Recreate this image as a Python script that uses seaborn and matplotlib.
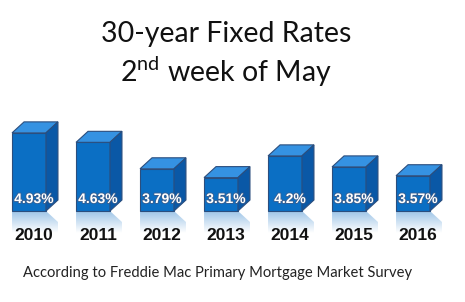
import numpy as np
import pandas as pd
import matplotlib
matplotlib.use("Agg")
import matplotlib.pyplot as plt
import matplotlib.patheffects as pe
from matplotlib.patches import Polygon
import seaborn as sns

years = ["2010", "2011", "2012", "2013", "2014", "2015", "2016"]
rates = [4.93, 4.63, 3.79, 3.51, 4.2, 3.85, 3.57]
rate_labels = ["4.93%", "4.63%", "3.79%", "3.51%", "4.2%", "3.85%", "3.57%"]
title_line1 = "30-year Fixed Rates"
title_line2 = r"2$^{\mathrm{nd}}$ week of May"
footer = "According to Freddie Mac Primary Mortgage Market Survey"

sns.set_theme(style="white")
plt.rcParams["font.family"] = ["Lato", "DejaVu Sans"]
plt.rcParams["mathtext.fontset"] = "custom"
plt.rcParams["mathtext.rm"] = "Lato"

BASE = 2.45          # visual baseline of the truncated value axis
FRONT = "#0b6fc4"
TOP = "#3592e2"
SIDE = "#0a58a6"
EDGE = "#2b4e7e"

df = pd.DataFrame({"year": years, "rate": rates})

fig = plt.figure(figsize=(4.65, 3.02), dpi=100)
ax = fig.add_axes([0, 0, 1, 1])
sns.barplot(data=df, x="year", y="rate", color=FRONT, width=0.53,
            saturation=1, ax=ax, edgecolor=EDGE, linewidth=0.8, zorder=3)

ax.set_xlim(-29 / 64, (465 - 29) / 64)
ppu = 31.5
ax.set_ylim(BASE - 91 / ppu, BASE + 211 / ppu)
ax.axis("off")

dx = 12 / 64
dy = 11 / ppu

for p, lab, yr in zip(ax.patches, rate_labels, years):
    h = p.get_height()
    p.set_y(BASE)
    p.set_height(h - BASE)
    x0 = p.get_x()
    x1 = x0 + p.get_width()
    top = h
    # top face
    ax.add_patch(Polygon([(x0, top), (x1, top), (x1 + dx, top + dy), (x0 + dx, top + dy)],
                         closed=True, facecolor=TOP, edgecolor=EDGE, lw=0.8, zorder=3))
    # side face
    ax.add_patch(Polygon([(x1, BASE), (x1 + dx, BASE + dy), (x1 + dx, top + dy), (x1, top)],
                         closed=True, facecolor=SIDE, edgecolor=EDGE, lw=0.8, zorder=3))
    # reflection
    rh = 22 / ppu
    grad = np.zeros((50, 1, 4))
    rgb = matplotlib.colors.to_rgb("#7fb2e0")
    grad[..., 0], grad[..., 1], grad[..., 2] = rgb
    grad[:, 0, 3] = np.linspace(0.75, 0.0, 50)
    im = ax.imshow(grad, extent=(x0, x1 + dx, BASE - rh, BASE), aspect="auto",
                   origin="upper", zorder=2, interpolation="bilinear")
    clip = Polygon([(x0, BASE), (x1, BASE), (x1 + dx, BASE - dy), (x1 + dx, BASE - rh),
                    (x0, BASE - rh)], closed=True, transform=ax.transData)
    im.set_clip_path(clip)
    cx = x0 + p.get_width() / 2 + dx / 2 - 1 / 64
    ax.text(cx, BASE + 12 / ppu, lab, color="white", fontsize=10, fontweight="bold",
            family=["Liberation Sans", "DejaVu Sans"], ha="center", va="center", zorder=5,
            path_effects=[pe.withStroke(linewidth=1.2, foreground="#3a5f8f")])
    ax.text(cx, BASE - 24 / ppu, yr, color="#111111", fontsize=12.5, fontweight="bold",
            family=["Liberation Sans", "DejaVu Sans"], ha="center", va="center", zorder=5)

fig.text(226 / 465, 1 - 34 / 302, title_line1, ha="center", va="center", fontsize=20.5, color="#111111")
fig.text(226 / 465, 1 - 72 / 302, title_line2, ha="center", va="center", fontsize=20.5, color="#111111")
fig.text(218 / 465, 1 - 273 / 302, footer, ha="center", va="center", fontsize=10.6, color="#222222")

fig.savefig("out.png", dpi=100)
